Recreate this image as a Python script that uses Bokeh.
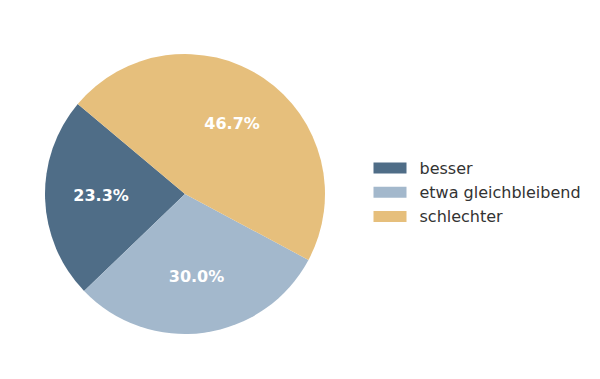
import math
from bokeh.plotting import figure
from bokeh.models import Range1d, ColumnDataSource
from bokeh.core.properties import value
from bokeh.embed import file_html
from bokeh.resources import INLINE

categories = ["besser", "etwa gleichbleibend", "schlechter"]
shares = [23.3, 30.0, 46.7]
colors = ["#4f6d87", "#a3b8cc", "#e6bf7c"]

W, H = 584, 363
cx, cy, r = 184.5, 169.5, 140.0
start_deg = 140.0

total = sum(shares)
starts, ends, lx, ly, labels = [], [], [], [], []
a = math.radians(start_deg)
for s in shares:
    span = 2 * math.pi * s / total
    starts.append(a)
    ends.append(a + span)
    mid = a + span / 2
    lx.append(cx + 0.6 * r * math.cos(mid))
    ly.append(cy + 0.6 * r * math.sin(mid) + 1.0)
    labels.append(f"{s:.1f}%")
    a += span

p = figure(width=W, height=H, output_backend="svg", toolbar_location=None,
           x_range=Range1d(0, W), y_range=Range1d(0, H),
           x_axis_type=None, y_axis_type=None, min_border=0)
p.outline_line_color = None
p.grid.visible = False
p.background_fill_color = "white"

src = ColumnDataSource(dict(start=starts, end=ends, color=colors, lx=lx, ly=ly, label=labels,
                            cat=categories))
p.wedge(x=cx, y=cy, radius=r, start_angle="start", end_angle="end",
        fill_color="color", line_color=None, source=src)
p.text(x="lx", y="ly", text="label", source=src, text_color="white",
       text_font=value("DejaVu Sans"), text_font_style="bold", text_font_size="16px",
       text_align="center", text_baseline="middle")

# legend
leg_y = [195.5 - 24.3 * i for i in range(len(categories))]
leg_src = ColumnDataSource(dict(y=leg_y, color=colors, cat=categories))
p.rect(x=373 + 16.5, y="y", width=33, height=11, fill_color="color", line_color=None, source=leg_src)
p.text(x=419, y="y", text="cat", source=leg_src, text_color="#333333",
       text_font=value("DejaVu Sans"), text_font_size="16px",
       text_align="left", text_baseline="middle")

open("out.html", "w").write(file_html(p, INLINE))
